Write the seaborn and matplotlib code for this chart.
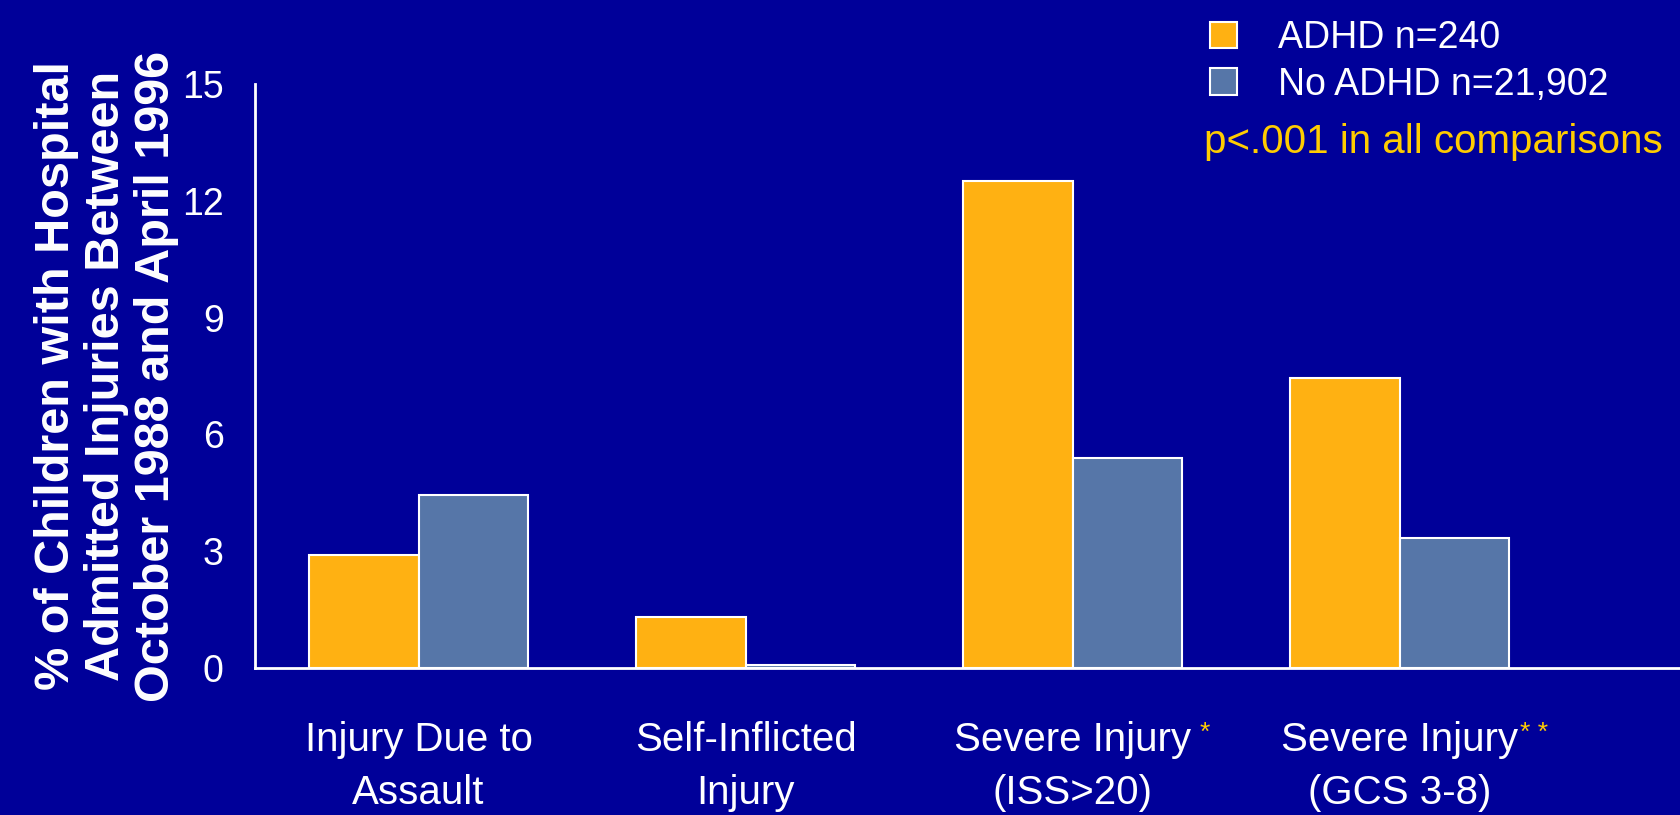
import matplotlib
matplotlib.use("Agg")
import matplotlib.pyplot as plt
from matplotlib.patches import Patch
import seaborn as sns
import pandas as pd

# ---- data -------------------------------------------------------------
categories = ["Injury Due to\nAssault", "Self-Inflicted\nInjury",
              "Severe Injury\n(ISS>20)", "Severe Injury\n(GCS 3-8)"]
groups = ["ADHD n=240", "No ADHD n=21,902"]
adhd_pct = [2.9, 1.3, 12.5, 7.45]
no_adhd_pct = [4.45, 0.08, 5.4, 3.35]
y_ticks = [0, 3, 6, 9, 12, 15]
footnote_marks = ["", "", "*", "* *"]
note_text = "p<.001 in all comparisons"
y_label = ("% of Children with Hospital\n"
           "Admitted Injuries Between\n"
           "October 1988 and April 1996")

# ---- style ------------------------------------------------------------
BG = "#000099"
ORANGE = "#FFB112"
SLATE = "#5676A8"
GOLD = "#FFCC00"

sns.set_style("white")
plt.rcParams["font.family"] = ["Liberation Sans", "DejaVu Sans"]

df = pd.DataFrame({
    "category": categories * 2,
    "group": [groups[0]] * len(categories) + [groups[1]] * len(categories),
    "pct": adhd_pct + no_adhd_pct,
})

W, H = 1681, 815
fig = plt.figure(figsize=(W / 100, H / 100), dpi=100, facecolor=BG)
ax = fig.add_axes([255 / W, 147 / H, 1 - 255 / W, 584 / H])
ax.set_facecolor(BG)

sns.barplot(data=df, x="category", y="pct", hue="group",
            palette=[ORANGE, SLATE], saturation=1, width=0.67, gap=0,
            edgecolor="white", linewidth=1.5, legend=False, ax=ax)

ax.set_xlim(-0.5, 3.86)
ax.set_ylim(0, 15)

# axes frame
for side in ("top", "right"):
    ax.spines[side].set_visible(False)
for side in ("left", "bottom"):
    ax.spines[side].set_color("white")
    ax.spines[side].set_linewidth(2)

ax.set_yticks(y_ticks)
ax.tick_params(axis="y", colors="white", labelsize=27, length=11.5,
               width=2, pad=11, direction="out")

ax.set_xticks(range(len(categories)))
ax.set_xticklabels(categories, linespacing=1.5)
ax.tick_params(axis="x", which="major", length=0, pad=38,
               labelsize=29, labelcolor="white")
ax.set_xticks([i - 0.5 for i in range(len(categories))], minor=True)
ax.tick_params(axis="x", which="minor", length=12, width=1.5,
               color="white", direction="out")
ax.set_xlabel("")

ax.set_ylabel(y_label, fontsize=35, fontweight="bold", color="white",
              linespacing=1.15, va="center")
ax.yaxis.set_label_coords(-0.104, 0.5)

# footnote asterisks next to the severe-injury labels
for lab, mark in zip(ax.get_xticklabels(), footnote_marks):
    if mark:
        ax.annotate(mark, xy=(1, 1), xycoords=lab,
                    xytext=(6 if mark == "*" else 1, 0),
                    textcoords="offset points", ha="left", va="top",
                    color=GOLD, fontsize=19, annotation_clip=False)

# legend
handles = [Patch(facecolor=c, edgecolor="white", linewidth=1.5)
           for c in (ORANGE, SLATE)]
ax.legend(handles, groups, loc="upper left",
          bbox_to_anchor=(1210 / W, 1 - 20 / H),
          bbox_transform=fig.transFigure, frameon=False, fontsize=27,
          labelcolor="white", handlelength=0.72, handleheight=0.72,
          handletextpad=1.1, labelspacing=0.28, borderpad=0,
          borderaxespad=0)

fig.text(1204 / W, 1 - 142 / H, note_text, color=GOLD, fontsize=29,
         ha="left", va="center")

fig.savefig("out.png", dpi=100, facecolor=BG)
